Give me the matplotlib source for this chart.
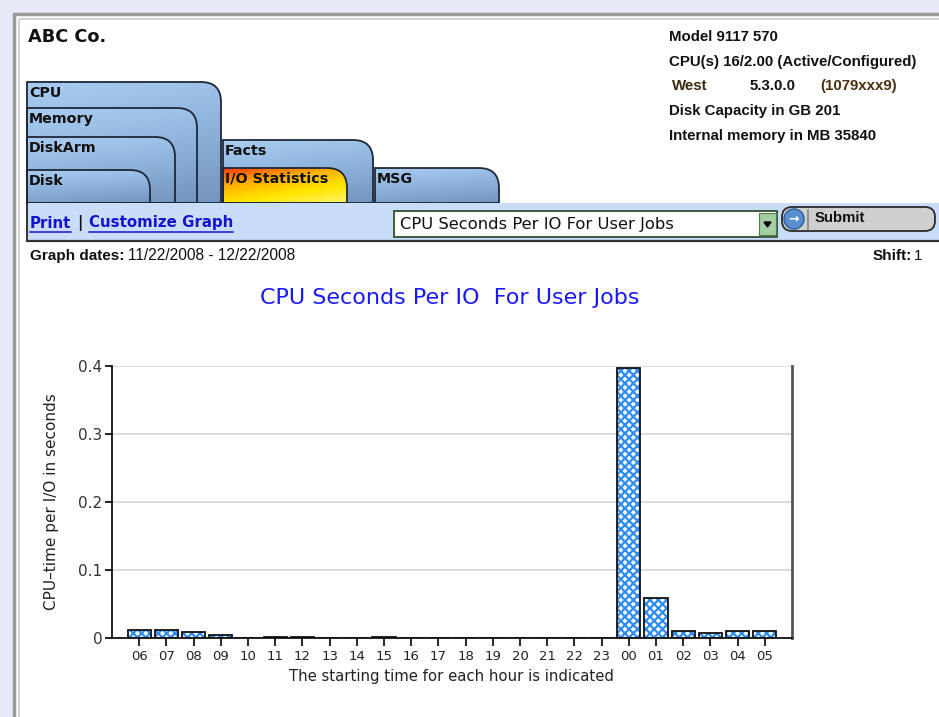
import numpy as np
import matplotlib
matplotlib.use('Agg')
import matplotlib.pyplot as plt
from matplotlib.patches import Rectangle, FancyBboxPatch, Circle, PathPatch
from matplotlib.path import Path
from matplotlib.colors import LinearSegmentedColormap

# ---- data -------------------------------------------------------------
hours = ['06', '07', '08', '09', '10', '11', '12', '13', '14', '15', '16', '17',
         '18', '19', '20', '21', '22', '23', '00', '01', '02', '03', '04', '05']
cpu_per_io = [0.012, 0.012, 0.009, 0.005, 0.0, 0.002, 0.002, 0.0, 0.0, 0.002,
              0.0, 0.0, 0.0, 0.0, 0.0, 0.0, 0.0, 0.0,
              0.397, 0.059, 0.010, 0.008, 0.010, 0.010]
y_ticks = [0, 0.1, 0.2, 0.3, 0.4]
y_tick_labels = ['0', '0.1', '0.2', '0.3', '0.4']

title = 'CPU Seconds Per IO  For User Jobs'
x_label = 'The starting time for each hour is indicated'
y_label = 'CPU\u2013time per I/O in seconds'

info_lines = ['Model 9117 570', 'CPU(s) 16/2.00 (Active/Configured)', None,
              'Disk Capacity in GB 201', 'Internal memory in MB 35840']

W, H = 939, 717
UI = 'Liberation Sans'
CHART = 'DejaVu Sans'

fig = plt.figure(figsize=(W / 100, H / 100), dpi=100)
fig.patch.set_facecolor('#e7e9f7')

# background axes in pixel coordinates (y grows downwards)
bg = fig.add_axes([0, 0, 1, 1])
bg.set_axis_off()

# white page panel
bg.add_patch(Rectangle((14, 14), 940, 720, facecolor='white', edgecolor='#9a9a9a', lw=2.5))
bg.add_patch(Rectangle((19, 19), 940, 720, facecolor='none', edgecolor='#c8c8c8', lw=1.2))

bg.text(28, 37, 'ABC Co.', fontsize=12.8, fontweight='bold', family='DejaVu Sans',
        va='center', ha='left', color='#111111')

# machine info, top right
fs_info = 10.8
for i, line in enumerate(info_lines):
    y = 37 + i * 24.7
    if line is None:
        bg.text(672, y, 'West', fontsize=fs_info, fontweight='bold', family=UI,
                va='center', color='#3a2a10')
        bg.text(750, y, '5.3.0.0', fontsize=fs_info, fontweight='bold', family=UI,
                va='center', color='#111111')
        bg.text(820, y, '(1079xxx9)', fontsize=fs_info, fontweight='bold', family=UI,
                va='center', color='#4a3010')
    else:
        bg.text(669, y, line, fontsize=fs_info, fontweight='bold', family=UI,
                va='center', color='#111111')


def tab(x0, x1, top, bottom, label, colors, r=20, diag=False):
    verts = [(x0, bottom), (x0, top), (x1 - r, top),
             (x1, top), (x1, top + r), (x1, bottom), (x0, bottom)]
    codes = [Path.MOVETO, Path.LINETO, Path.LINETO,
             Path.CURVE3, Path.CURVE3, Path.LINETO, Path.CLOSEPOLY]
    patch = PathPatch(Path(verts, codes), facecolor='none', edgecolor='#1e2836', lw=1.3, zorder=3)
    bg.add_patch(patch)
    cmap = LinearSegmentedColormap.from_list('t', colors)
    yy, xx = np.mgrid[0:1:60j, 0:1:60j]
    grad = 0.65 * yy + 0.35 * xx if diag else yy + 0.25 * xx
    im = bg.imshow(grad, extent=[x0, x1, bottom, top], cmap=cmap, origin='upper',
                   aspect='auto', zorder=2)
    im.set_clip_path(patch)
    bg.text(x0 + 2, top + 11, label, fontsize=10.3, fontweight='bold', family='DejaVu Sans',
            va='center', ha='left', color='#111111', zorder=4)


blue_tab = ['#a9cdf1', '#8db2da', '#7495bd']
tab(27, 221, 82, 203, 'CPU', blue_tab)
tab(27, 197, 108, 203, 'Memory', blue_tab)
tab(27, 175, 137, 203, 'DiskArm', blue_tab)
tab(27, 150, 170, 203, 'Disk', blue_tab)
tab(223, 373, 140, 203, 'Facts', blue_tab)
tab(223, 347, 168, 203, 'I/O Statistics', ['#ff3a00', '#ffb000', '#ffe600', '#fff36a'], diag=True)
tab(375, 499, 168, 203, 'MSG', blue_tab)

# light blue toolbar strip
bg.add_patch(Rectangle((27, 203), 920, 38, facecolor='#c9ddf9', edgecolor='none', zorder=5))
bg.plot([27, 27], [203, 241], color='#222222', lw=1.3, zorder=6)
bg.plot([27, 945], [241, 241], color='#333333', lw=1.6, zorder=6)

link_blue = '#1414d0'
t_print = bg.text(30, 223, 'Print', fontsize=10.8, fontweight='bold', family='DejaVu Sans',
                  color=link_blue, va='center', zorder=7)
bg.text(77, 223, '|', fontsize=10.8, fontweight='bold', family='DejaVu Sans',
        color='#111111', va='center', zorder=7)
t_cust = bg.text(89, 223, 'Customize Graph', fontsize=10.8, fontweight='bold', family='DejaVu Sans',
                 color=link_blue, va='center', zorder=7)

# dropdown
bg.add_patch(Rectangle((394, 211), 383, 26, facecolor='white', edgecolor='#2f4f2f', lw=1.3, zorder=7))
bg.add_patch(Rectangle((759, 213), 17, 22, facecolor='#a3cfa3', edgecolor='#557755', lw=0.8, zorder=8))
bg.fill([764, 771, 767.5], [222, 222, 227], color='black', zorder=9)
bg.text(400, 224.5, 'CPU Seconds Per IO For User Jobs', fontsize=11.8, family='DejaVu Sans',
        color='#111111', va='center', zorder=9)

# submit button
bg.add_patch(FancyBboxPatch((782, 207), 153, 24, boxstyle='round,pad=0,rounding_size=10',
                            facecolor='#cfcfcf', edgecolor='#2a2a2a', lw=1.3, zorder=7))
bg.add_patch(Circle((794, 219), 10, facecolor='#5a8ed0', edgecolor='#2c5a9a', lw=1, zorder=8))
bg.text(794, 219, '\u2192', fontsize=9, color='white', ha='center', va='center',
        fontweight='bold', zorder=9)
bg.plot([808, 808], [210, 229], color='#888888', lw=1.2, zorder=8)
bg.text(815, 218.5, 'Submit', fontsize=10.8, fontweight='bold', family=UI,
        color='#111111', va='center', zorder=9)

# graph dates / shift
bg.text(30, 256, 'Graph dates:', fontsize=11, fontweight='bold', family=UI,
        color='#111111', va='center')
bg.text(128, 256, '11/22/2008 - 12/22/2008', fontsize=11.2, family=UI,
        color='#111111', va='center')
bg.text(922, 256, '1', fontsize=11, family=UI, color='#111111', va='center', ha='right')
bg.text(912, 256, 'Shift:', fontsize=11, fontweight='bold', family=UI,
        color='#111111', va='center', ha='right')

# chart title and axis labels
bg.text(450, 298, title, fontsize=16, family=CHART, color='#1a1aff', ha='center', va='center')
bg.text(52, 502, y_label, fontsize=11, family=CHART, color='#222222',
        rotation=90, ha='center', va='center')
bg.text(451, 676, x_label, fontsize=10.7, family=CHART, color='#222222',
        ha='center', va='center')

bg.set_xlim(0, W)
bg.set_ylim(H, 0)

# underline links
fig.canvas.draw()
inv = bg.transData.inverted()
for t in (t_print, t_cust):
    bb = t.get_window_extent()
    (xa, ya), (xb, yb) = inv.transform([[bb.x0, bb.y0], [bb.x1, bb.y1]])
    bg.plot([xa, xb], [ya + 1, ya + 1], color=link_blue, lw=1.1, zorder=8)
bg.set_xlim(0, W)
bg.set_ylim(H, 0)

# ---- chart ------------------------------------------------------------
plt.rcParams['hatch.linewidth'] = 1.6
ax = fig.add_axes([112 / W, (H - 638) / H, 680 / W, 272 / H])
ax.set_facecolor('none')
x = np.arange(len(hours))
ax.bar(x, cpu_per_io, width=0.86, facecolor='white', edgecolor='#2f8cf5',
       hatch='xxxx', lw=0, zorder=2)
ax.bar(x, cpu_per_io, width=0.86, fill=False, edgecolor='#111111', lw=1.3, zorder=3)

ax.set_xlim(-1, len(hours))
ax.set_ylim(0, 0.4)
ax.set_xticks(x)
ax.set_xticklabels(hours, fontsize=9.5, family=CHART, color='#222222')
ax.set_yticks(y_ticks)
ax.set_yticklabels(y_tick_labels, fontsize=11, family=CHART, color='#333333')
ax.tick_params(axis='x', direction='out', length=6, width=1.2, pad=3)
ax.tick_params(axis='y', direction='out', length=5, width=1.2, pad=2)
ax.yaxis.grid(True, color='#d9d9d9', lw=1.3)
ax.set_axisbelow(True)
ax.spines['top'].set_visible(False)
ax.spines['left'].set_color('#111111')
ax.spines['left'].set_linewidth(1.3)
ax.spines['bottom'].set_color('#111111')
ax.spines['bottom'].set_linewidth(1.3)
ax.spines['right'].set_color('#555555')
ax.spines['right'].set_linewidth(2)

fig.savefig('out.png', dpi=100, facecolor=fig.get_facecolor())
